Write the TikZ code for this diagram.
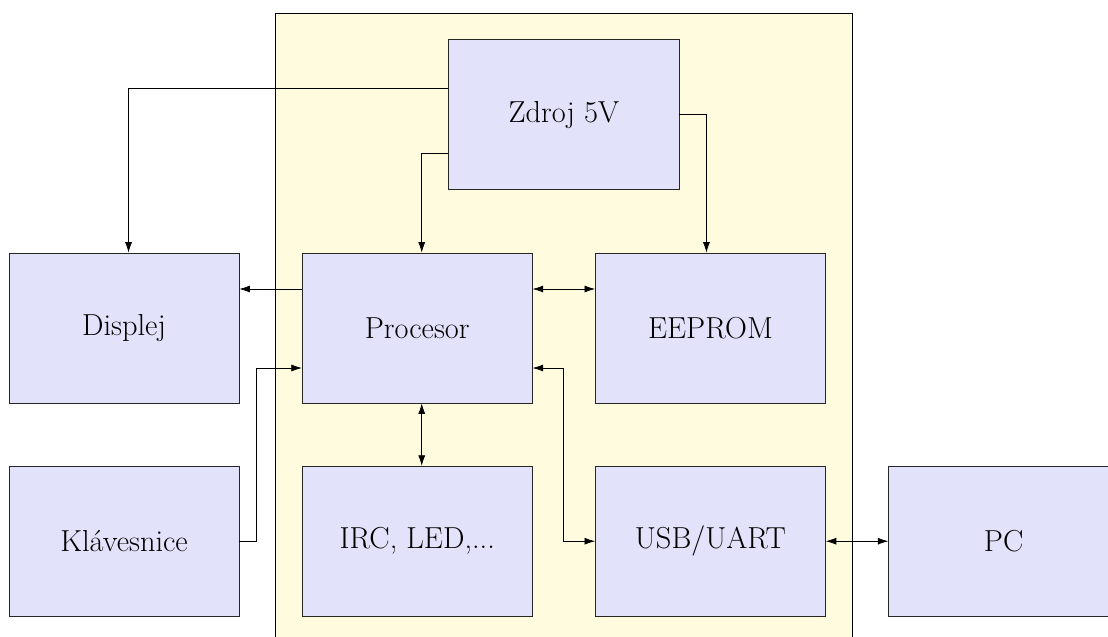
\documentclass[tikz,border=0pt]{standalone}
\usepackage{tikz}
\usetikzlibrary{arrows.meta,positioning,fit,calc,backgrounds}
\definecolor{blokFill}{RGB}{226,226,250}
\definecolor{deskaFill}{RGB}{255,251,222}

\begin{document}
\begin{tikzpicture}[
    blok/.style={rectangle, draw=black!85, fill=blokFill,
                 minimum width=4.6cm, minimum height=3cm, font=\LARGE,
                 align=center},
    arr/.style={-{Latex[length=6pt,width=4pt]}, black},
    arrdva/.style={{Latex[length=6pt,width=4pt]}-{Latex[length=6pt,width=4pt]}, black},
    node distance=1.25cm
  ]
  \useasboundingbox (-8.345,-6.16) rectangle (13.815,6.56);

  \node[blok] (proc) at (0,0) {Procesor};
  \node[blok, right=of proc]   (eeprom) {EEPROM};
  \node[blok, left=of proc]    (displej) {Displej};
  \node[blok, below=of proc]   (irc) {IRC, LED,...};
  \node[blok, below=of eeprom] (usb) {USB/UART};
  \node[blok, below=of displej] (klav) {Klávesnice};
  \node[blok, right=of usb]    (pc) {PC};
  \coordinate (mid) at ($(proc.north)!0.5!(eeprom.north)$);
  \node[blok, above=of mid]    (zdroj) {Zdroj 5V};

  % deska
  \begin{scope}[on background layer]
    \node[draw=black, fill=deskaFill, inner sep=0.53cm,
          fit=(zdroj)(proc)(eeprom)(irc)(usb)] (deska) {};
  \end{scope}

  % napajeni
  \draw[arr] ([yshift=0.53cm]zdroj.west) -| ([xshift=0.09cm]displej.north);
  \draw[arr] ([yshift=-0.78cm]zdroj.west) -| ([xshift=0.09cm]proc.north);
  \draw[arr] (zdroj.east) -| ([xshift=-0.08cm]eeprom.north);

  % data
  \draw[arr] ([yshift=0.78cm]proc.west) -- ([yshift=0.78cm]displej.east);
  \draw[arrdva] ([yshift=0.78cm]proc.east) -- ([yshift=0.78cm]eeprom.west);
  \draw[arr] (klav.east) -- ++(0.34,0) |- ([yshift=-0.8cm]proc.west);
  \draw[arrdva] ([xshift=0.09cm]proc.south) -- ([xshift=0.09cm]irc.north);
  \draw[arrdva] ([yshift=-0.8cm]proc.east) -- ++(0.61,0) |- (usb.west);
  \draw[arrdva] (usb.east) -- (pc.west);
\end{tikzpicture}
\end{document}
